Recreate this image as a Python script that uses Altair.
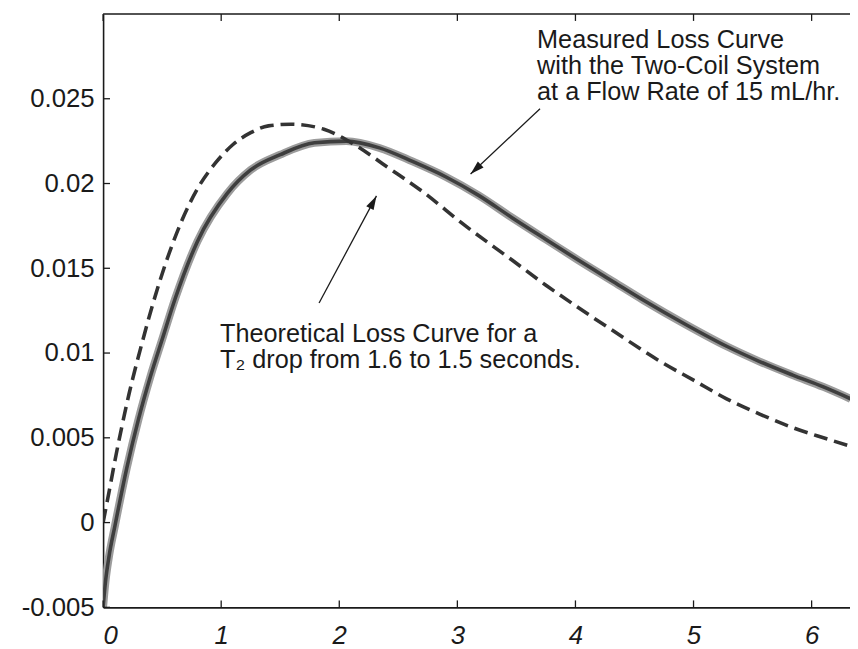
import math
import altair as alt
import pandas as pd

# ---------------- data ----------------
meas_x = [0.0, 0.02, 0.05, 0.10, 0.20, 0.30, 0.40, 0.50, 0.61, 0.80, 1.05, 1.25, 1.50,
          1.79, 2.06, 2.34, 2.62, 2.90, 3.18, 3.46, 3.75, 4.02, 4.30, 4.58, 4.93, 5.28,
          5.56, 5.84, 6.10, 6.33]
meas_y = [-0.0050, -0.0035, -0.0020, -0.0002, 0.0032, 0.0061, 0.0086, 0.0108, 0.0132,
          0.0166, 0.0194, 0.0208, 0.0217, 0.0224, 0.0225, 0.0221, 0.0213, 0.0204, 0.0193,
          0.0180, 0.0167, 0.0155, 0.0143, 0.0131, 0.0117, 0.0104, 0.0095, 0.0087, 0.0080,
          0.0073]

theo_x = [0.0, 0.05, 0.11, 0.16, 0.22, 0.33, 0.43, 0.53, 0.66, 0.80, 0.95, 1.10, 1.25,
          1.40, 1.59, 1.87, 2.15, 2.40, 2.71, 3.05, 3.46, 3.75, 4.02, 4.30, 4.72, 5.00,
          5.28, 5.56, 5.84, 6.10, 6.33]
theo_y = [0.0, 0.0018, 0.0040, 0.0057, 0.0076, 0.0106, 0.0131, 0.0153, 0.0177, 0.0197,
          0.0212, 0.0223, 0.0230, 0.0234, 0.0235, 0.0232, 0.0222, 0.0210, 0.0195, 0.0176,
          0.0155, 0.0140, 0.0127, 0.0114, 0.0095, 0.0084, 0.0073, 0.0064, 0.0056, 0.0050,
          0.0045]

x_ticks = [0, 1, 2, 3, 4, 5, 6]
y_ticks = [-0.005, 0, 0.005, 0.01, 0.015, 0.02, 0.025]

meas_label = ["Measured Loss Curve", "with the Two-Coil System", "at a Flow Rate of 15 mL/hr."]
meas_label_pos = [3.675, 0.0280]
theo_label = ["Theoretical Loss Curve for a", "T\u2082 drop from 1.6 to 1.5 seconds."]
theo_label_pos = [0.99, 0.01067]

arrow_x1 = [3.70, 1.829]
arrow_y1 = [0.02441, 0.01295]
arrow_x2 = [3.112, 2.315]
arrow_y2 = [0.02056, 0.01927]

# ---------------- layout ----------------
W, H = 754, 599
XMAX = 6.325
YMIN, YMAX = -0.005, 0.030
FONT = "Liberation Sans"
INK = "#1a1a1a"

xs = alt.Scale(domain=[0, XMAX], nice=False, zero=False)
ys = alt.Scale(domain=[YMIN, YMAX], nice=False, zero=False)

px_per_x = W / XMAX
px_per_y = H / (YMAX - YMIN)

ylabel_expr = "datum.value < 0 ? '-' + format(-datum.value, '~g') : format(datum.value, '~g')"

x_axis = alt.Axis(values=x_ticks, format="d", ticks=False, tickSize=0, grid=False, title=None,
                  labelFont=FONT, labelFontSize=26, labelFontStyle="italic",
                  labelColor=INK, labelPadding=15, domainColor=INK, domainWidth=1.6)
y_axis = alt.Axis(values=y_ticks, labelExpr=ylabel_expr, ticks=False, tickSize=0,
                  grid=False, title=None, labelFont=FONT, labelFontSize=26, labelColor=INK,
                  labelPadding=9, domainColor=INK, domainWidth=1.6)


def X(field):
    return alt.X(field, type="quantitative", scale=xs, axis=x_axis, title=None)


def Y(field):
    return alt.Y(field, type="quantitative", scale=ys, axis=y_axis, title=None)


meas = pd.DataFrame({"x": meas_x, "y": meas_y})
theo = pd.DataFrame({"x": theo_x, "y": theo_y})

meas_halo = alt.Chart(meas).mark_line(
    color="#9c9c9c", strokeWidth=8, interpolate="monotone", clip=True
).encode(x=X("x"), y=Y("y"))

meas_core = alt.Chart(meas).mark_line(
    color="#3e3e3e", strokeWidth=3.6, interpolate="monotone", clip=True
).encode(x=X("x"), y=Y("y"))

theo_line = alt.Chart(theo).mark_line(
    color="#333333", strokeWidth=3.6, strokeDash=[14, 7], strokeCap="butt",
    interpolate="monotone", clip=True
).encode(x=X("x"), y=Y("y"))

# inward tick marks
ytk = pd.DataFrame({"y": y_ticks})
xtk = pd.DataFrame({"x": x_ticks})
left_ticks = alt.Chart(ytk).mark_rule(color=INK, strokeWidth=1.3).encode(
    y=Y("y"), x=alt.value(0), x2=alt.value(7))
bottom_ticks = alt.Chart(xtk).mark_rule(color=INK, strokeWidth=1.3).encode(
    x=X("x"), y=alt.value(H), y2=alt.value(H - 7))
top_ticks = alt.Chart(xtk).mark_rule(color=INK, strokeWidth=1.3).encode(
    x=X("x"), y=alt.value(0), y2=alt.value(7))
top_border = alt.Chart(pd.DataFrame({"a": [0]})).mark_rule(color=INK, strokeWidth=1.6).encode(
    x=alt.value(0), x2=alt.value(W), y=alt.value(0))

# annotations
lab1 = alt.Chart(pd.DataFrame({"x": [meas_label_pos[0]], "y": [meas_label_pos[1]]})).mark_text(
    text=meas_label, align="left", baseline="alphabetic", lineHeight=26.5,
    font=FONT, fontSize=25.5, color=INK
).encode(x=X("x"), y=Y("y"))

lab2 = alt.Chart(pd.DataFrame({"x": [theo_label_pos[0]], "y": [theo_label_pos[1]]})).mark_text(
    text=theo_label, align="left", baseline="alphabetic", lineHeight=26.5,
    font=FONT, fontSize=25.5, color=INK
).encode(x=X("x"), y=Y("y"))

angles = []
for a, b, c, d in zip(arrow_x1, arrow_y1, arrow_x2, arrow_y2):
    dxp = (c - a) * px_per_x
    dyp = -(d - b) * px_per_y
    angles.append(math.degrees(math.atan2(dxp, -dyp)) % 360)

arrows = pd.DataFrame({"x": arrow_x1, "y": arrow_y1, "x2": arrow_x2, "y2": arrow_y2,
                       "ang": angles})
shafts = alt.Chart(arrows).mark_rule(color=INK, strokeWidth=1.3).encode(
    x=X("x"), y=Y("y"), x2="x2:Q", y2="y2:Q")
heads = alt.Chart(arrows).mark_point(
    shape="M0,0L-0.6,2L0.6,2Z", filled=True, color=INK, opacity=1, size=196
).encode(x=X("x2"), y=Y("y2"), angle=alt.Angle("ang:Q", scale=None))

chart = alt.layer(
    meas_halo, meas_core, theo_line, left_ticks, bottom_ticks, top_ticks, top_border,
    shafts, heads, lab1, lab2
).properties(
    width=W, height=H,
    padding={"left": 96, "top": 3, "right": 0, "bottom": 38},
    autosize="none",
    background="white",
).configure_view(stroke=None)

chart.save("out.html", embed_options={"renderer": "svg", "actions": False})
